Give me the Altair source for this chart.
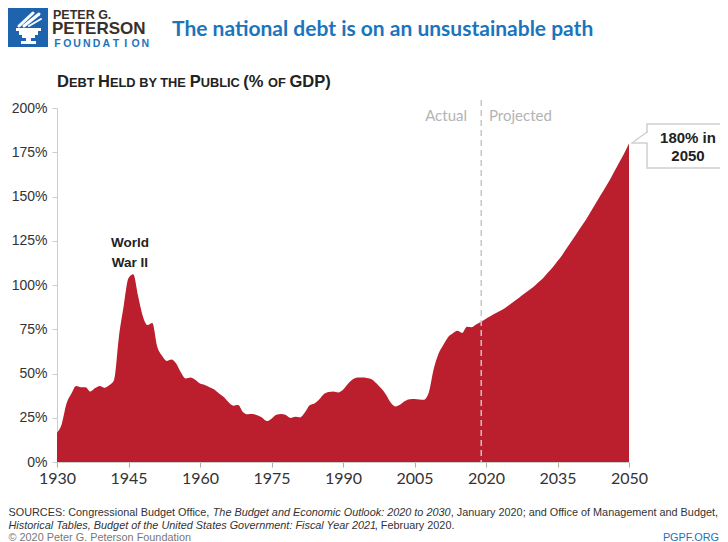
import altair as alt
import pandas as pd

# ---------------- data ----------------
years_actual = list(range(1930, 2020))
debt_actual = [
    16.5, 21.5, 33.0, 38.5, 43.0, 42.3, 42.3, 39.8, 41.8, 43.0,   # 1930-1939
    42.0, 43.5, 46.5, 70.9, 88.3, 103.9, 106.1, 93.9, 82.4, 77.4, # 1940-1949
    78.5, 65.4, 60.1, 57.1, 57.9, 55.7, 50.6, 47.2, 47.7, 46.4,   # 1950-1959
    44.3, 43.5, 42.3, 41.0, 38.7, 36.7, 33.7, 31.8, 32.2, 28.3,   # 1960-1969
    27.0, 27.1, 26.4, 25.1, 23.1, 24.5, 26.7, 27.1, 26.6, 24.9,   # 1970-1979
    25.5, 25.2, 27.9, 32.1, 33.1, 35.3, 38.4, 39.5, 39.8, 39.3,   # 1980-1989
    40.8, 44.0, 46.6, 47.8, 47.7, 47.5, 46.8, 44.5, 41.6, 38.2,   # 1990-1999
    33.6, 31.4, 32.5, 34.5, 35.5, 35.6, 35.3, 35.2, 39.2, 52.3,   # 2000-2009
    60.9, 65.9, 70.4, 72.6, 74.1, 72.9, 76.4, 76.2, 77.8, 79.2,   # 2010-2019
]
years_proj = list(range(2020, 2051))
debt_proj = [
    81.0, 82.5, 84.0, 85.5, 87.0, 89.0, 91.0, 93.0, 95.0, 97.0,   # 2020-2029
    99.0, 101.5, 104.0, 107.0, 110.0, 113.5, 117.0, 121.0, 125.0, 129.0,  # 2030-2039
    133.0, 137.0, 141.5, 146.0, 150.5, 155.0, 159.5, 164.5, 169.5, 174.5, # 2040-2049
    180.0,                                                        # 2050
]
x_ticks = [1930, 1945, 1960, 1975, 1990, 2005, 2020, 2035, 2050]
y_ticks = [0, 25, 50, 75, 100, 125, 150, 175, 200]
split_year = [2019]
ann_years = [1945.3, 1945.3]
ann_vals = [123.7, 112.2]
ann_labels = ["World", "War II"]

RED = "#BB1E2D"
BLUE = "#1C74BC"
LOGO_BLUE = "#1E63AE"
DARK = "#3A302B"

df = pd.DataFrame({"year": years_actual + years_proj, "debt": debt_actual + debt_proj})
df_ann = pd.DataFrame({"year": ann_years, "val": ann_vals, "label": ann_labels})
df_split = pd.DataFrame({"year": split_year})

W, H = 572, 354
OX, OY = 57, 108  # page position of plot origin
one = alt.Data(values=[{"a": 1}])

xs = alt.Scale(domain=[1930, 2050], nice=False, zero=False)
ys = alt.Scale(domain=[0, 200], nice=False)

area = alt.Chart(df).mark_area(color=RED, interpolate="monotone").encode(
    x=alt.X("year:Q", scale=xs, axis=alt.Axis(
        values=x_ticks, format="d", title=None, grid=False,
        domainColor="#cccccc", tickColor="#aaaaaa", tickSize=5,
        labelFont="Lato", labelFontSize=16, labelColor="#333333",
        labelPadding=3, labelFlush=False, labelOverlap=False, labelBound=False)),
    y=alt.Y("debt:Q", scale=ys, axis=alt.Axis(
        values=y_ticks, labelExpr="datum.value + '%'", title=None, grid=False,
        domainColor="#cccccc", tickColor="#cccccc", tickSize=5,
        labelFont="Liberation Sans", labelFontSize=14, labelColor="#333333",
        labelPadding=5, labelFlush=False, labelOverlap=False)),
)

split = alt.Chart(df_split).mark_rule(color="#c8c8c8", strokeDash=[6, 4], strokeWidth=1.5).encode(
    x=alt.X("year:Q", scale=xs), y=alt.value(-8), y2=alt.value(H))

ann = alt.Chart(df_ann).mark_text(font="Liberation Sans", fontWeight="bold", fontSize=13.5,
                                  color="#222222", align="center", baseline="middle").encode(
    x=alt.X("year:Q", scale=xs), y=alt.Y("val:Q", scale=ys), text="label:N")

layers = [area, split, ann]


def txt(t, px, py, size, weight="normal", color="#222222", font="Liberation Sans",
        align="left", baseline="alphabetic", style="normal"):
    return alt.Chart(one).mark_text(text=t, fontSize=size, fontWeight=weight, color=color,
                                    font=font, align=align, baseline=baseline,
                                    fontStyle=style).encode(
        x=alt.value(px - OX), y=alt.value(py - OY))


def rect(x1, y1, x2, y2, fill, stroke=None, sw=1):
    kw = dict(fill=fill)
    if stroke:
        kw.update(stroke=stroke, strokeWidth=sw)
    return alt.Chart(one).mark_rect(**kw).encode(
        x=alt.value(x1 - OX), x2=alt.value(x2 - OX), y=alt.value(y1 - OY), y2=alt.value(y2 - OY))


def rule(x1, y1, x2, y2, color, sw=1, cap="butt"):
    return alt.Chart(one).mark_rule(color=color, strokeWidth=sw, strokeCap=cap).encode(
        x=alt.value(x1 - OX), x2=alt.value(x2 - OX), y=alt.value(y1 - OY), y2=alt.value(y2 - OY))


# Actual / Projected labels
layers.append(txt("Actual", 467, 121, 15, color="#b3b3b3", font="Lato", align="right"))
layers.append(txt("Projected", 489, 121, 15, color="#b3b3b3", font="Lato"))

# callout box 180% in 2050
layers.append(rect(647, 124, 760, 168, "white", "#cfcfcf", 1.5))
layers.append(rule(647, 133, 647, 143, "white", 3))
layers.append(rule(647, 132, 632, 143, "#cfcfcf", 1.5, "round"))
layers.append(rule(632, 143, 647, 143, "#cfcfcf", 1.5, "round"))
layers.append(txt("180% in", 688, 143, 15, "bold", "#222222", align="center"))
layers.append(txt("2050", 688, 161, 15, "bold", "#222222", align="center"))

# ---------------- header ----------------
layers.append(rect(8, 8, 48, 47, LOGO_BLUE))
# torch icon (white)
layers.append(rect(16, 28, 41, 31, "white"))
layers.append(rect(19, 31, 38, 35, "white"))
layers.append(rect(22, 35, 35, 38, "white"))
layers.append(rect(26, 38, 31, 41, "white"))
layers.append(rect(21, 41, 36, 44, "white"))
layers.append(rule(19, 26, 33, 13, "white", 3, "round"))
layers.append(rule(24, 26, 39, 14, "white", 3, "round"))
layers.append(rule(29, 26, 41, 19, "white", 2, "round"))

layers.append(txt("PETER G.", 53, 18.5, 12.5, "bold", DARK))
layers.append(txt("PETERSON", 52, 34, 17, "bold", DARK))
for i, ch in enumerate("FOUNDATION"):
    layers.append(txt(ch, 57.5 + i * 9.75, 46.7, 10.5, "bold", BLUE, align="center"))

layers.append(txt("The national debt is on an unsustainable path", 172, 36, 21, "bold", BLUE, font="Lato"))

# subtitle in small caps (Arial Bold advance widths)
CWB = {'A': .722, 'B': .722, 'C': .722, 'D': .722, 'E': .667, 'F': .611, 'G': .778, 'H': .722,
       'I': .278, 'L': .611, 'O': .778, 'P': .667, 'T': .611, 'U': .722, 'Y': .667, ' ': .278,
       '(': .333, ')': .333, '%': .889}
BIG, SMALL = 16.5, 12.8
runs = [("D", BIG), ("EBT ", SMALL), ("H", BIG), ("ELD BY THE ", SMALL), ("P", BIG),
        ("UBLIC ", SMALL), ("(% ", BIG), ("OF ", SMALL), ("GDP)", BIG)]
cx = 57
for t, s in runs:
    layers.append(txt(t, cx, 86.5, s, "bold", "#222222"))
    cx += sum(CWB[c] for c in t) * s

# ---------------- footer ----------------
# Arial regular advance widths, used to chain the mixed roman / italic runs
CW = {' ': .278, ',': .278, '.': .278, ':': .278, ';': .278, '(': .333, ')': .333, '-': .333,
      'A': .667, 'B': .667, 'C': .722, 'D': .722, 'E': .667, 'F': .611, 'G': .778, 'H': .722,
      'I': .278, 'J': .5, 'K': .667, 'L': .556, 'M': .833, 'N': .722, 'O': .778, 'P': .667,
      'Q': .778, 'R': .722, 'S': .667, 'T': .611, 'U': .722, 'V': .667, 'W': .944, 'X': .667,
      'Y': .667, 'Z': .611, 'a': .556, 'b': .556, 'c': .5, 'd': .556, 'e': .556, 'f': .278,
      'g': .556, 'h': .556, 'i': .222, 'j': .222, 'k': .5, 'l': .222, 'm': .833, 'n': .556,
      'o': .556, 'p': .556, 'q': .556, 'r': .333, 's': .5, 't': .278, 'u': .556, 'v': .5,
      'w': .722, 'x': .5, 'y': .5, 'z': .5, '\u00a9': .737}
for d in "0123456789":
    CW[d] = .556


def em(t):
    return sum(CW.get(c, .556) for c in t)


line1 = [("SOURCES: Congressional Budget Office, ", "normal", 0),
         ("The Budget and Economic Outlook: 2020 to 2030", "italic", 0),
         (", January 2020; and Office of Management and Budget,", "normal", 0)]
line2 = [("Historical Tables, Budget of the United States Government: Fiscal Year 2021", "italic", 0),
         (", February 2020.", "normal", -3.5)]
FS = min(11.0, 710.0 / sum(em(t) for t, _, _ in line1))
for ln, yb in ((line1, 516), (line2, 529)):
    cx = 8.5
    for t, st, adj in ln:
        layers.append(txt(t, cx + adj, yb, FS, color="#333333", style=st))
        cx += em(t) * FS
layers.append(txt("\u00a9 2020 Peter G. Peterson Foundation", 8.5, 541, FS, color="#777777"))
layers.append(txt("PGPF.ORG", 719, 541, FS, color=BLUE, align="right"))

chart = alt.layer(*layers).properties(
    width=W, height=H,
    padding={"left": OX - 8, "top": OY - 8, "right": 712 - (OX - 8) - W, "bottom": 534 - (OY - 8) - H},
    autosize=alt.AutoSizeParams(type="none"),
).configure_view(stroke=None)

chart.save("out.html", embed_options={"renderer": "svg", "actions": False})
